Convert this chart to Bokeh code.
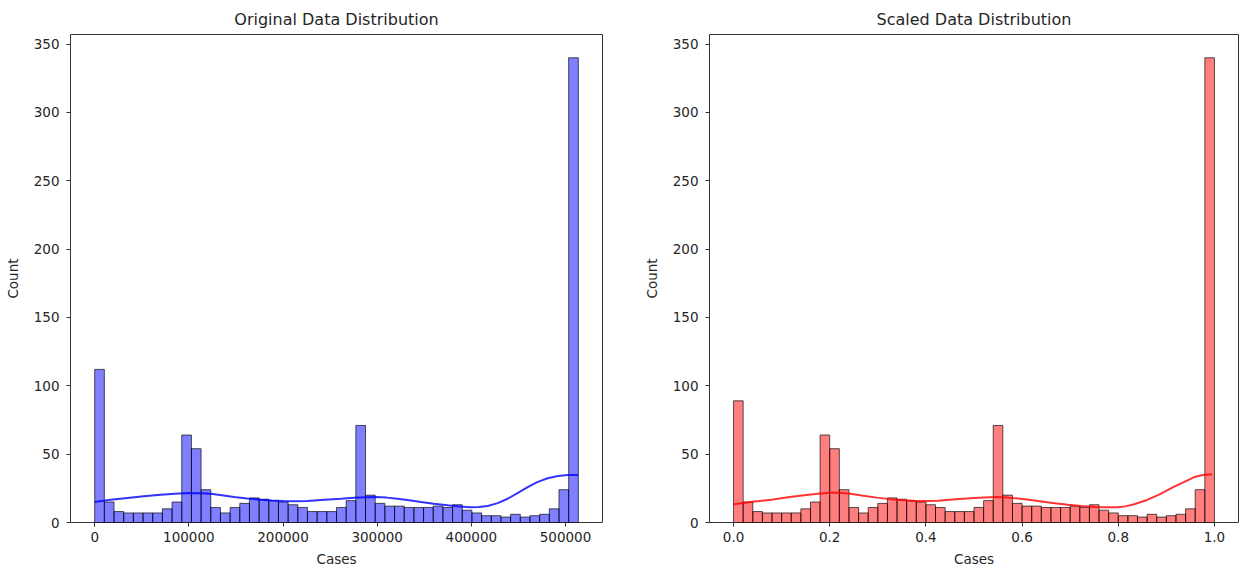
import numpy as np
from bokeh.plotting import figure
from bokeh.layouts import row
from bokeh.models import Range1d, FixedTicker
from bokeh.embed import file_html
from bokeh.resources import INLINE

# ---------------- data ----------------
orig_min = 0
orig_max = 513600
scaled_min = 0.0
scaled_max = 1.0
n_bins = 50

orig_counts = [112, 15, 8, 7, 7, 7, 7, 10, 15, 64,
               54, 24, 11, 7, 11, 14, 18, 17, 16, 15,
               13, 11, 8, 8, 8, 11, 16, 71, 20, 14,
               12, 12, 11, 11, 11, 12, 11, 13, 9, 7,
               5, 5, 4, 6, 4, 5, 6, 10, 24, 340]

scaled_counts = [89, 15, 8, 7, 7, 7, 7, 10, 15, 64,
                 54, 24, 11, 7, 11, 14, 18, 17, 16, 15,
                 13, 11, 8, 8, 8, 11, 16, 71, 20, 14,
                 12, 12, 11, 11, 11, 12, 11, 13, 9, 7,
                 5, 5, 4, 6, 4, 5, 6, 10, 24, 340]

orig_kde_x = [0, 17000, 34700, 52000, 70100, 85000, 100200, 112000, 123300,
              135000, 148000, 162000, 176400, 188000, 200500, 213000, 226000,
              240200, 261400, 275600, 288000, 299000, 310000, 321700, 334000,
              346400, 360000, 374800, 387000, 398900, 408000, 417300, 428000,
              438600, 449000, 459800, 470000, 481100, 492000, 502300, 513600]
orig_kde_y = [15, 16.6, 18, 19.2, 20.3, 21, 21.5, 21.4, 21,
              19.9, 18.6, 17.5, 16.7, 16.1, 15.7, 15.6, 15.7,
              16.4, 17.4, 18.1, 18.5, 18.6, 18.2, 17.4, 16.3,
              15, 13.7, 12.6, 11.7, 11.1, 11.3, 12.1, 14.2,
              17.4, 21.5, 25.8, 29.5, 32.4, 34, 34.8, 34.8]

scaled_kde_x = [0, 0.04, 0.079, 0.113, 0.147, 0.175, 0.2, 0.222, 0.243, 0.27,
                0.298, 0.325, 0.353, 0.378, 0.4, 0.425, 0.449, 0.477, 0.51,
                0.545, 0.57, 0.597, 0.622, 0.648, 0.672, 0.696, 0.724, 0.751,
                0.775, 0.798, 0.815, 0.833, 0.86, 0.888, 0.915, 0.943, 0.96,
                0.976, 0.995]
scaled_kde_y = [13.3, 15.1, 16.7, 18.4, 20, 21.1, 21.8, 21.7, 21, 19.6,
                18.2, 17.1, 16.2, 15.8, 15.7, 16, 16.7, 17.4, 18.1,
                18.6, 18.2, 17.4, 16.2, 15, 13.9, 13, 12.1, 11.4,
                11.1, 11.1, 11.8, 13.3, 16.5, 21, 26, 30.7, 33.5,
                34.8, 35.3]

orig_ticks = [0, 100000, 200000, 300000, 400000, 500000]
orig_tick_labels = ["0", "100000", "200000", "300000", "400000", "500000"]
scaled_ticks = [0.0, 0.2, 0.4, 0.6, 0.8, 1.0]
scaled_tick_labels = ["0.0", "0.2", "0.4", "0.6", "0.8", "1.0"]
y_ticks = [0, 50, 100, 150, 200, 250, 300, 350]

TXT = "#262626"
FONT = "DejaVu Sans"


def make_panel(title, counts, lo, hi, kde_x, kde_y, color, ticks, tick_labels,
               width, border_left, border_right):
    edges = np.linspace(lo, hi, n_bins + 1)
    span = hi - lo
    p = figure(width=width, height=572, output_backend="svg", toolbar_location=None,
               x_range=Range1d(lo - 0.05 * span, hi + 0.05 * span),
               y_range=Range1d(0, max(counts) * 1.05),
               min_border_left=border_left, min_border_right=border_right,
               min_border_top=34, min_border_bottom=50)
    p.quad(left=edges[:-1], right=edges[1:], bottom=0, top=counts,
           fill_color=color, fill_alpha=0.5, line_color="black", line_alpha=0.65,
           line_width=1)
    p.line(kde_x, kde_y, line_color=color, line_width=2, line_alpha=0.8)

    p.title.text = title
    p.title.align = "center"
    p.title.text_font = FONT
    p.title.text_font_size = "16px"
    p.title.text_font_style = "normal"
    p.title.text_color = TXT
    p.title.standoff = 11

    p.xgrid.visible = False
    p.ygrid.visible = False
    p.outline_line_color = "#333333"
    p.outline_line_width = 1
    p.background_fill_color = "white"
    p.border_fill_color = "white"

    p.xaxis.ticker = FixedTicker(ticks=ticks)
    p.xaxis.major_label_overrides = dict(zip(ticks, tick_labels))
    p.yaxis.ticker = FixedTicker(ticks=y_ticks)
    p.xaxis.axis_label = "Cases"
    p.yaxis.axis_label = "Count"
    for ax in (p.xaxis[0], p.yaxis[0]):
        ax.axis_line_color = None
        ax.minor_tick_line_color = None
        ax.major_tick_line_color = "#333333"
        ax.major_tick_out = 4
        ax.major_tick_in = 0
        ax.major_label_text_font = FONT
        ax.major_label_text_font_size = "13.5px"
        ax.major_label_text_color = TXT
        ax.axis_label_text_font = FONT
        ax.axis_label_text_font_size = "13.5px"
        ax.axis_label_text_font_style = "normal"
        ax.axis_label_text_color = TXT
    p.xaxis.major_label_standoff = 5
    p.xaxis.axis_label_standoff = 6
    p.yaxis.major_label_standoff = 7
    p.yaxis.axis_label_standoff = 10
    return p


p1 = make_panel("Original Data Distribution", orig_counts, orig_min, orig_max,
                orig_kde_x, orig_kde_y, "blue", orig_ticks, orig_tick_labels,
                640, 70, 38)
p2 = make_panel("Scaled Data Distribution", scaled_counts, scaled_min, scaled_max,
                scaled_kde_x, scaled_kde_y, "red", scaled_ticks, scaled_tick_labels,
                599, 68, 1)

layout = row(p1, p2)
open("out.html", "w").write(file_html(layout, INLINE))
